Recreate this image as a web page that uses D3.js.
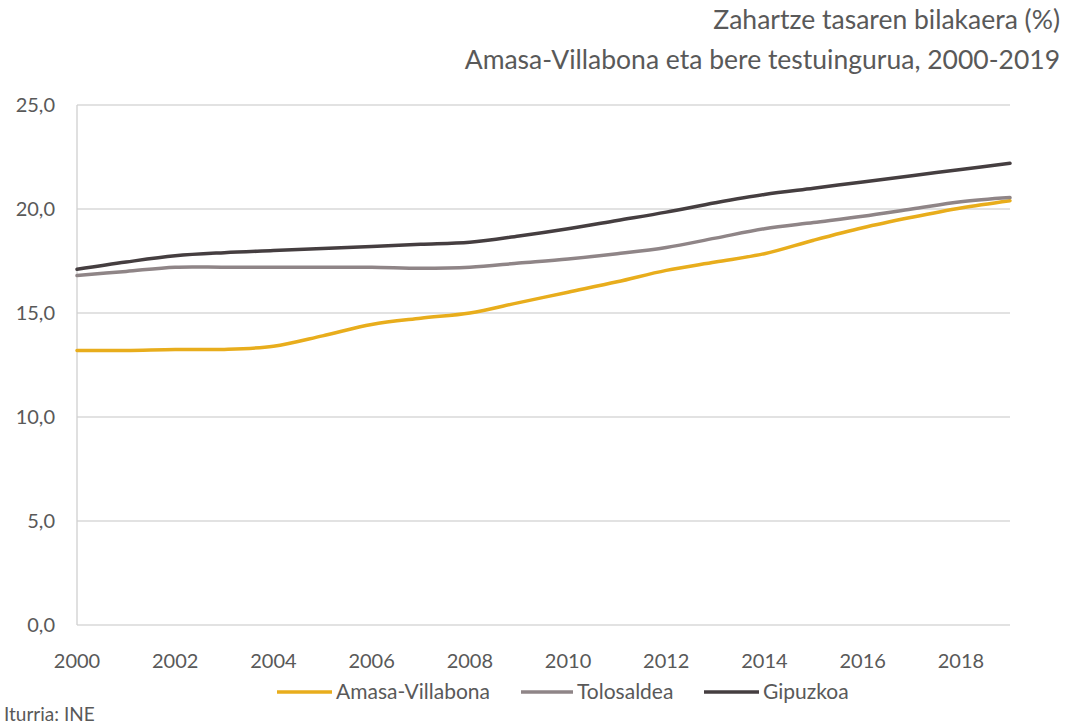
<!DOCTYPE html>
<html>
<head>
<meta charset="utf-8">
<script src="https://cdn.jsdelivr.net/npm/d3@7"></script>
<style>
  body { margin: 0; background: #fff; }
  svg { display: block; }
  text { font-family: Lato, "Open Sans", sans-serif; fill: #595959; }
</style>
</head>
<body>
<svg id="chart" width="1069" height="724"></svg>
<script>
const years = d3.range(2000, 2020);
const amasa = [13.2, 13.2, 13.25, 13.25, 13.4, 13.9, 14.45, 14.75, 15.0, 15.5, 16.0, 16.5, 17.05, 17.45, 17.85, 18.5, 19.1, 19.6, 20.05, 20.4];
const tolosaldea = [16.8, 17.0, 17.2, 17.2, 17.2, 17.2, 17.2, 17.15, 17.2, 17.4, 17.6, 17.85, 18.15, 18.6, 19.05, 19.35, 19.65, 20.0, 20.35, 20.55];
const gipuzkoa = [17.1, 17.45, 17.75, 17.9, 18.0, 18.1, 18.2, 18.3, 18.4, 18.7, 19.05, 19.45, 19.85, 20.3, 20.7, 21.0, 21.3, 21.6, 21.9, 22.2];
const seriesNames = ["Amasa-Villabona", "Tolosaldea", "Gipuzkoa"];
const seriesColors = ["#E8AD1C", "#8F8587", "#453E40"];
const yTicks = [0, 5, 10, 15, 20, 25];
const xTicks = d3.range(2000, 2019, 2);
const titleLines = ["Zahartze tasaren bilakaera (%)", "Amasa-Villabona eta bere testuingurua, 2000-2019"];
const sourceText = "Iturria: INE";

(function () {
const series = [amasa, tolosaldea, gipuzkoa];
const svg = d3.select("#chart");
const mLeft = 77, mRight = 1010, mTop = 105, mBottom = 625;

const x = d3.scaleLinear().domain([2000, 2019]).range([mLeft, mRight]);
const y = d3.scaleLinear().domain([0, 25]).range([mBottom, mTop]);

// gridlines
svg.append("g").selectAll("line").data(yTicks).join("line")
  .attr("x1", mLeft).attr("x2", mRight)
  .attr("y1", d => y(d)).attr("y2", d => y(d))
  .attr("stroke", "#d9d9d9").attr("stroke-width", 1.3);

// left axis line
svg.append("line").attr("x1", mLeft).attr("x2", mLeft).attr("y1", mTop).attr("y2", mBottom)
  .attr("stroke", "#d0d0d0").attr("stroke-width", 1.3);

// y tick labels
const fmt = d => d.toFixed(1).replace(".", ",");
svg.append("g").selectAll("text").data(yTicks).join("text")
  .attr("x", 55).attr("y", d => y(d)).attr("dy", "0.35em")
  .attr("text-anchor", "end").style("font-size", "20px")
  .text(fmt);

// x tick labels
svg.append("g").selectAll("text").data(xTicks).join("text")
  .attr("x", d => x(d)).attr("y", 668)
  .attr("text-anchor", "middle").style("font-size", "20px")
  .text(d => d);

// lines
const line = d3.line().x((d, i) => x(years[i])).y(d => y(d)).curve(d3.curveCatmullRom.alpha(0.5));
svg.append("g").selectAll("path").data(series).join("path")
  .attr("d", d => line(d))
  .attr("fill", "none")
  .attr("stroke", (d, i) => seriesColors[i])
  .attr("stroke-width", 3.5)
  .attr("stroke-linecap", "round");

// title
svg.append("g").selectAll("text").data(titleLines).join("text")
  .attr("x", 1060).attr("y", (d, i) => 29 + i * 40)
  .attr("text-anchor", "end").style("font-size", "26.5px")
  .text(d => d);

// legend
const legendItems = [
  { x1: 277, x2: 332, tx: 336 },
  { x1: 521, x2: 573, tx: 577 },
  { x1: 704, x2: 759, tx: 763 }
];
const lg = svg.append("g");
seriesNames.forEach((name, i) => {
  lg.append("line").attr("x1", legendItems[i].x1).attr("x2", legendItems[i].x2)
    .attr("y1", 692).attr("y2", 692)
    .attr("stroke", seriesColors[i]).attr("stroke-width", 3.5);
  lg.append("text").attr("x", legendItems[i].tx).attr("y", 692).attr("dy", "0.35em")
    .style("font-size", "21px").text(name);
});

svg.append("text").attr("x", 4).attr("y", 714).attr("dy", "0.35em")
  .style("font-size", "19px").text(sourceText);
})();
</script>
</body>
</html>
